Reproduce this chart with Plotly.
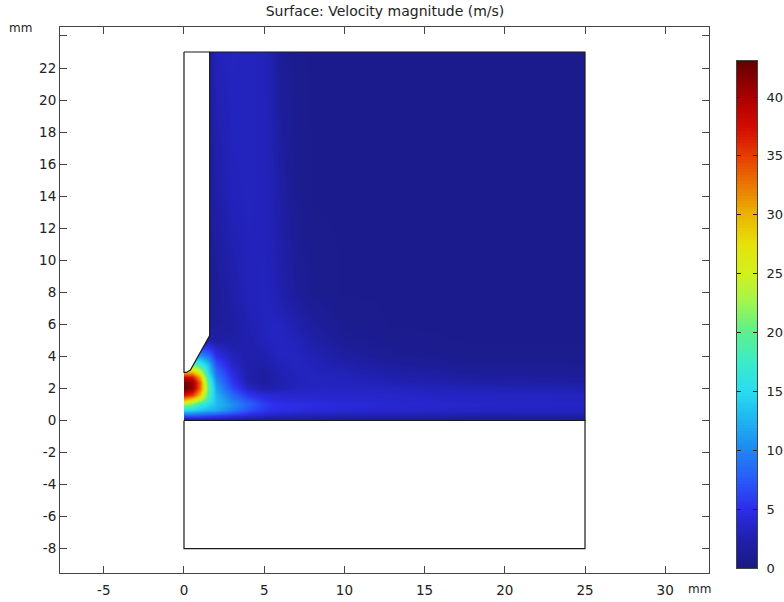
import plotly.graph_objects as go

FONT = "DejaVu Sans"

xs = [0, 0.5, 1, 1.5, 2, 3, 4, 5, 5.5, 6, 7, 8, 10, 13, 18, 25]
ys = [0, 0.15, 0.33, 0.65, 1, 1.3, 1.6, 2, 2.4, 2.7, 3, 3.5, 4, 5, 6, 8, 14, 23]

speed_y000 = [0.4, 0.4, 0.4, 0.4, 0.4, 0.4, 0.4, 0.4, 0.4, 0.4, 0.4, 0.4, 0.4, 0.4, 0.4, 0.4]
speed_y015 = [4, 4, 4, 3.8, 3.5, 3, 2.5, 2, 1.9, 1.8, 1.7, 1.6, 1.5, 1.4, 1.3, 1.2]
speed_y033 = [8, 8, 7.5, 7, 6.5, 5.5, 4.5, 3.7, 3.4, 3.2, 3, 2.9, 2.7, 2.5, 2.3, 2.2]
speed_y065 = [15, 14.5, 13.5, 12.5, 12, 9.5, 7, 5.5, 5, 4.8, 4.5, 4.3, 4, 3.7, 3.4, 3.2]
speed_y100 = [23, 21, 17, 15, 13, 10.5, 8, 6, 5.3, 5, 4.8, 4.6, 4.3, 3.9, 3.6, 3.4]
speed_y130 = [30, 27, 23, 17, 13, 9.5, 7, 5.2, 4.6, 4.4, 4.2, 4.1, 4, 3.7, 3.4, 3.3]
speed_y160 = [37, 35, 29, 19, 12.5, 8.5, 5.5, 4.2, 4, 3.9, 3.8, 3.8, 3.8, 3.6, 3.3, 3.2]
speed_y200 = [43, 41, 33, 20, 11.5, 6.5, 3.5, 2.3, 2.4, 2.7, 3.1, 3.3, 3.4, 3.2, 2.8, 2.6]
speed_y240 = [42, 41, 33, 19, 10.5, 5.5, 2.5, 1.7, 2.1, 2.5, 3, 3.2, 3.1, 2.7, 2.1, 1.8]
speed_y270 = [38, 37, 30, 17, 9.5, 5, 2.2, 1.7, 2.1, 2.6, 3, 3.2, 3, 2.4, 1.7, 1.5]
speed_y300 = [30, 30, 25, 15, 8.5, 4.5, 2.1, 1.8, 2.2, 2.7, 3.1, 3.1, 2.8, 2, 1.3, 1.2]
speed_y350 = [15, 20, 17, 13, 7, 3.5, 2.2, 2.1, 2.5, 2.9, 3.2, 3, 2.3, 1.5, 1, 0.9]
speed_y400 = [5, 9, 11, 9, 5, 3, 2.3, 2.5, 2.9, 3.2, 3.2, 2.8, 1.8, 1, 0.7, 0.7]
speed_y500 = [1, 1, 1, 2, 2, 2, 2.4, 3, 3.2, 3.3, 3, 2.2, 1.1, 0.7, 0.6, 0.6]
speed_y600 = [1, 1, 1, 1.3, 1.4, 1.8, 2.6, 3.1, 3.2, 3.2, 2.5, 1.6, 0.8, 0.6, 0.6, 0.6]
speed_y800 = [1, 1, 1, 1, 1.2, 2.2, 3, 3.1, 2.9, 2.4, 1.4, 0.8, 0.6, 0.6, 0.6, 0.6]
speed_y1400 = [1.3, 1.3, 1.3, 1.3, 2, 3, 3.1, 3, 2.7, 1.9, 0.9, 0.6, 0.6, 0.6, 0.6, 0.6]
speed_y2300 = [1.5, 1.5, 1.5, 1.5, 3, 3.2, 3.1, 3, 2.4, 1.2, 0.7, 0.6, 0.6, 0.6, 0.6, 0.6]

speed = [speed_y000, speed_y015, speed_y033, speed_y065, speed_y100, speed_y130,
         speed_y160, speed_y200, speed_y240, speed_y270, speed_y300, speed_y350,
         speed_y400, speed_y500, speed_y600, speed_y800, speed_y1400, speed_y2300]

nozzle_x = [0, 1.6, 1.6, 0.4, 0.15, 0, 0]
nozzle_y = [23, 23, 5.3, 3.15, 3.0, 3.0, 23]
domain_x = [0, 25, 25, 1.6]
domain_y = [0, 0, 23, 23]
plate_x = [0, 25, 25, 0, 0]
plate_y = [0, 0, -8, -8, 0]

x_ticks = [-5, 0, 5, 10, 15, 20, 25, 30]
x_labels = ["-5", "0", "5", "10", "15", "20", "25", "30"]
y_ticks = [-8, -6, -4, -2, 0, 2, 4, 6, 8, 10, 12, 14, 16, 18, 20, 22, 24]
y_labels = ["-8", "-6", "-4", "-2", "0", "2", "4", "6", "8", "10", "12", "14",
            "16", "18", "20", "22", ""]
bar_ticks = [0, 5, 10, 15, 20, 25, 30, 35, 40]

speed_max = 43.06
stops = [
    (0, "rgb(26,26,130)"), (2.5, "rgb(32,32,175)"), (5, "rgb(45,45,235)"),
    (7.5, "rgb(40,90,250)"), (10, "rgb(30,135,240)"), (12.5, "rgb(30,180,240)"),
    (15, "rgb(40,220,240)"), (17.5, "rgb(60,235,200)"), (20, "rgb(90,240,140)"),
    (22.5, "rgb(160,245,80)"), (25, "rgb(210,240,30)"), (27.5, "rgb(230,225,10)"),
    (30, "rgb(235,180,0)"), (32.5, "rgb(235,120,0)"), (35, "rgb(230,60,0)"),
    (37.5, "rgb(210,10,0)"), (40, "rgb(170,0,0)"), (43.06, "rgb(100,0,0)"),
]
colorscale = [[v / speed_max, c] for v, c in stops]

# Colour key: one column of cells per scale step, on its own axes.
bar_levels = [i * 0.25 for i in range(173)]

# Page pixels of the frames, turned into layout fractions below.
W, H = 784, 602
L, R, T, B = 60, 757, 27, 573
PLOT_RIGHT = 709
BAR_LEFT = 737
BAR_TOP, BAR_BOTTOM = 61, 568
pw, ph = R - L, B - T

fig = go.Figure()
fig.add_trace(go.Contour(
    x=xs, y=ys, z=speed, zmin=0, zmax=speed_max, zauto=False,
    colorscale=colorscale, autocontour=False, showscale=False,
    contours=dict(coloring="heatmap", start=0, end=speed_max, size=50, showlines=False),
    line=dict(width=0), hoverinfo="skip",
))
line = dict(color="#1a1a1a", width=1.2)
fig.add_trace(go.Scatter(x=nozzle_x, y=nozzle_y, mode="lines", fill="toself",
                         fillcolor="white", line=line, hoverinfo="skip", showlegend=False))
fig.add_trace(go.Scatter(x=domain_x, y=domain_y, mode="lines", line=line,
                         hoverinfo="skip", showlegend=False))
fig.add_trace(go.Scatter(x=plate_x, y=plate_y, mode="lines", line=line,
                         hoverinfo="skip", showlegend=False))
fig.add_trace(go.Heatmap(
    x=[0, 1], y=bar_levels, z=[[v, v] for v in bar_levels], xaxis="x2", yaxis="y2",
    zmin=0, zmax=speed_max, colorscale=colorscale, showscale=False, hoverinfo="skip",
))

tickfont = dict(family=FONT, size=13.5, color="#222222")
axis = dict(showgrid=False, zeroline=False, showline=True, linecolor="#444444", linewidth=1,
            mirror="ticks", ticks="inside", ticklen=7, tickcolor="#444444", tickfont=tickfont)
fig.update_layout(
    width=W, height=H,
    margin=dict(l=L, r=W - R, t=T, b=H - B, autoexpand=False),
    paper_bgcolor="white", plot_bgcolor="white", showlegend=False,
    title=dict(text="Surface: Velocity magnitude (m/s)", x=385 / W, xanchor="center",
               xref="container", y=1 - 11 / H, yanchor="middle",
               font=dict(family=FONT, size=14, color="#222222")),
    xaxis=dict(axis, domain=[0, (PLOT_RIGHT - L) / pw], range=[-7.73, 32.73],
               tickvals=x_ticks, ticktext=x_labels, ticklabelstandoff=5),
    yaxis=dict(axis, range=[-9.52, 24.56], tickvals=y_ticks, ticktext=y_labels),
    xaxis2=dict(domain=[(BAR_LEFT - L) / pw, 1], range=[0, 1], anchor="y2", showgrid=False,
                zeroline=False, showticklabels=False, ticks="", showline=True,
                linecolor="#444444", linewidth=1, mirror=True),
    yaxis2=dict(domain=[(B - BAR_BOTTOM) / ph, (B - BAR_TOP) / ph], range=[0, speed_max],
                anchor="x2", side="right", showgrid=False, zeroline=False, showline=True,
                linecolor="#444444", linewidth=1, mirror="ticks", ticks="inside", ticklen=4,
                tickcolor="#222222", tickvals=bar_ticks,
                tickfont=dict(family=FONT, size=13, color="#222222"),
                ticklabelstandoff=6),
    annotations=[
        dict(text="mm", xref="paper", yref="paper", x=(20 - L) / pw, y=(B - 28) / ph,
             xanchor="center", yanchor="middle", showarrow=False,
             font=dict(family=FONT, size=12, color="#222222")),
        dict(text="mm", xref="paper", yref="paper", x=(699 - L) / pw, y=(B - 589) / ph,
             xanchor="center", yanchor="middle", showarrow=False,
             font=dict(family=FONT, size=12, color="#222222")),
    ],
)
fig.write_html("out.html", config={"displayModeBar": False},
               post_script="document.body.style.margin='0';")
